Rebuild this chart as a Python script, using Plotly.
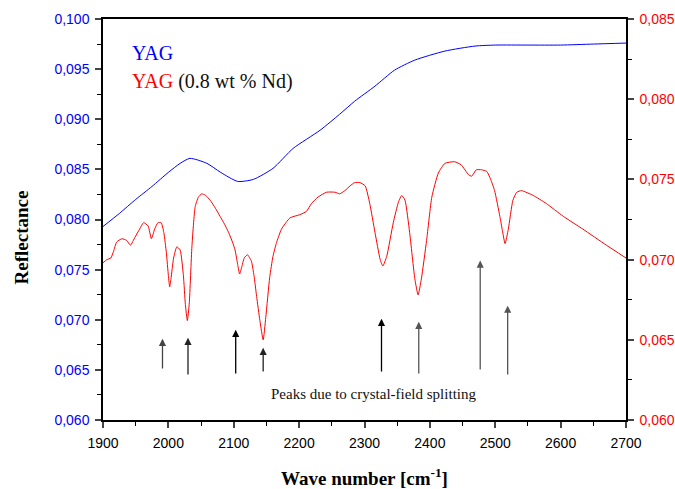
import plotly.graph_objects as go

# ---- data ----
blue_x = [1900, 1925, 1950, 1975, 2000, 2018, 2033, 2059, 2080, 2106, 2130, 2160, 2191,
          2232, 2262, 2285, 2316, 2346, 2377, 2423, 2469, 2500, 2550, 2600, 2650, 2700]
blue_y = [0.0793, 0.0806, 0.0820, 0.0833, 0.0847, 0.0856, 0.0861, 0.0856, 0.0847, 0.0838,
          0.0840, 0.0851, 0.0871, 0.0889, 0.0905, 0.0918, 0.0933, 0.0949, 0.0959, 0.0968,
          0.0973, 0.0974, 0.0974, 0.0974, 0.0975, 0.0976]

red_x = [1900, 1906, 1912, 1916, 1921, 1929, 1936, 1942, 1949, 1956, 1962, 1969, 1974, 1979,
         1984, 1989, 1993, 1997, 2000, 2002, 2004, 2008, 2013, 2018, 2023, 2026, 2029, 2032,
         2036, 2041, 2046, 2051, 2057, 2064, 2072, 2079, 2086, 2092, 2098, 2102, 2106, 2109,
         2112, 2116, 2121, 2127, 2131, 2135, 2140, 2145, 2149, 2155, 2160, 2165, 2173, 2186,
         2201, 2211, 2219, 2229, 2242, 2255, 2262, 2270, 2278, 2285, 2293, 2301, 2308, 2316,
         2324, 2328, 2334, 2344, 2352, 2357, 2362, 2369, 2377, 2382, 2387, 2395, 2403, 2413,
         2423, 2438, 2448, 2459, 2464, 2471, 2479, 2487, 2493, 2499, 2507, 2511, 2515, 2520,
         2527, 2533, 2540, 2558, 2578, 2604, 2634, 2670, 2700]
red_y = [0.0698, 0.0700, 0.0701, 0.0705, 0.0711, 0.0713, 0.0712, 0.0709, 0.0714, 0.0719,
         0.0723, 0.0721, 0.0713, 0.0719, 0.0723, 0.0723, 0.0717, 0.0704, 0.0690, 0.0683,
         0.0688, 0.0701, 0.0708, 0.0706, 0.0690, 0.0672, 0.0662, 0.0673, 0.0708, 0.0733,
         0.0739, 0.0741, 0.0740, 0.0737, 0.0732, 0.0727, 0.0722, 0.0717, 0.0711, 0.0706,
         0.0697, 0.0691, 0.0695, 0.0701, 0.0703, 0.0699, 0.0690, 0.0677, 0.0662, 0.0650,
         0.0664, 0.0689, 0.0702, 0.0710, 0.0719, 0.0726, 0.0728, 0.0730, 0.0735, 0.0739,
         0.0742, 0.0742, 0.0741, 0.0743, 0.0746, 0.0748, 0.0748, 0.0746, 0.0735, 0.0717,
         0.0700, 0.0696, 0.0702, 0.0723, 0.0736, 0.0740, 0.0737, 0.0717, 0.0688, 0.0678,
         0.0688, 0.0712, 0.0739, 0.0754, 0.0760, 0.0761, 0.0759, 0.0753, 0.0752, 0.0756,
         0.0756, 0.0755, 0.0750, 0.0743, 0.0727, 0.0718, 0.0710, 0.0719, 0.0737, 0.0742,
         0.0743, 0.0740, 0.0735, 0.0727, 0.0719, 0.0709, 0.0701]

arrow_x = [1991, 2030, 2103, 2145, 2326, 2383, 2477, 2519]
arrow_tip = [0.0681, 0.0682, 0.0690, 0.0672, 0.0701, 0.0698, 0.0759, 0.0714]
arrow_tail = [0.0650, 0.0644, 0.0645, 0.0647, 0.0647, 0.0645, 0.0649, 0.0644]
arrow_colors = ['#444444', '#222222', '#000000', '#222222', '#000000', '#555555', '#555555', '#555555']

left_ticks = [0.060, 0.065, 0.070, 0.075, 0.080, 0.085, 0.090, 0.095, 0.100]
right_ticks = [0.060, 0.065, 0.070, 0.075, 0.080, 0.085]
x_ticks = [1900, 2000, 2100, 2200, 2300, 2400, 2500, 2600, 2700]

BLUE = '#0000ff'
RED = '#ff0000'
SERIF = 'Liberation Serif, Times New Roman, serif'
SANS = 'Liberation Sans, Arial, sans-serif'

fig = go.Figure()
fig.add_trace(go.Scatter(x=blue_x, y=blue_y, mode='lines', line=dict(color=BLUE, width=1, shape='spline', smoothing=0.6),
                         yaxis='y', showlegend=False))
fig.add_trace(go.Scatter(x=red_x, y=red_y, mode='lines', line=dict(color=RED, width=1, shape='spline', smoothing=0.5),
                         yaxis='y2', showlegend=False))

annotations = []
for xa, tip, tail, c in zip(arrow_x, arrow_tip, arrow_tail, arrow_colors):
    annotations.append(dict(x=xa, y=tip, ax=xa, ay=tail, xref='x', yref='y', axref='x', ayref='y',
                            text='', showarrow=True, arrowhead=2, arrowsize=1.1, arrowwidth=1.3,
                            arrowcolor=c))
annotations.append(dict(x=2314, y=0.0626, xref='x', yref='y', text='Peaks due to crystal-field splitting',
                        showarrow=False, font=dict(family=SERIF, size=15, color='#111111')))
annotations.append(dict(x=0.052, y=0.9145, xref='paper', yref='paper', xanchor='left', yanchor='middle',
                        text='YAG', showarrow=False, font=dict(family=SERIF, size=20, color=BLUE)))
annotations.append(dict(x=0.052, y=0.8437, xref='paper', yref='paper', xanchor='left', yanchor='middle',
                        text="<span style='color:#ff0000'>YAG</span> (0.8 wt % Nd)", showarrow=False,
                        font=dict(family=SERIF, size=20, color='#111111')))
annotations.append(dict(x=0.5, y=-0.142, xref='paper', yref='paper', xanchor='center', yanchor='middle',
                        text='<b>Wave number [cm<sup>-1</sup>]</b>', showarrow=False,
                        font=dict(family=SERIF, size=19, color='black')))
annotations.append(dict(x=-0.155, y=0.455, xref='paper', yref='paper', xanchor='center', yanchor='middle',
                        text='<b>Reflectance</b>', textangle=-90, showarrow=False,
                        font=dict(family=SERIF, size=19, color='black')))

fig.update_layout(
    width=675, height=489,
    margin=dict(l=103, r=49, t=19, b=69, autoexpand=False),
    paper_bgcolor='white', plot_bgcolor='white',
    separators=', ',
    showlegend=False,
    annotations=annotations,
    xaxis=dict(range=[1900, 2700], tickvals=x_ticks, ticks='outside', ticklen=6, tickwidth=1.5,
               showline=True, linecolor='black', linewidth=1.5, mirror=True, showgrid=False, zeroline=False,
               automargin=False, ticklabelstandoff=3,
               tickfont=dict(family=SANS, size=14, color='black'),
               minor=dict(dtick=50, ticks='outside', ticklen=4, tickwidth=1.2, tickcolor='black', showgrid=False)),
    yaxis=dict(range=[0.060, 0.100], tickvals=left_ticks, tickformat='.3f', ticks='outside', ticklen=6,
               tickwidth=1.5, showline=True, linecolor='black', linewidth=1.5, showgrid=False, zeroline=False,
               automargin=False, ticklabelstandoff=3,
               tickfont=dict(family=SANS, size=14, color=BLUE),
               minor=dict(dtick=0.0025, ticks='outside', ticklen=4, tickwidth=1.2, tickcolor='black', showgrid=False)),
    yaxis2=dict(range=[0.060, 0.085], tickvals=right_ticks, tickformat='.3f', ticks='outside', ticklen=6,
                tickwidth=1.5, showline=True, linecolor='black', linewidth=1.5, showgrid=False, zeroline=False,
                overlaying='y', side='right', anchor='x', automargin=False, ticklabelstandoff=3,
                tickfont=dict(family=SANS, size=14, color=RED),
                minor=dict(dtick=0.0025, ticks='outside', ticklen=4, tickwidth=1.2, tickcolor='black', showgrid=False)),
)

fig.write_html('out.html')
